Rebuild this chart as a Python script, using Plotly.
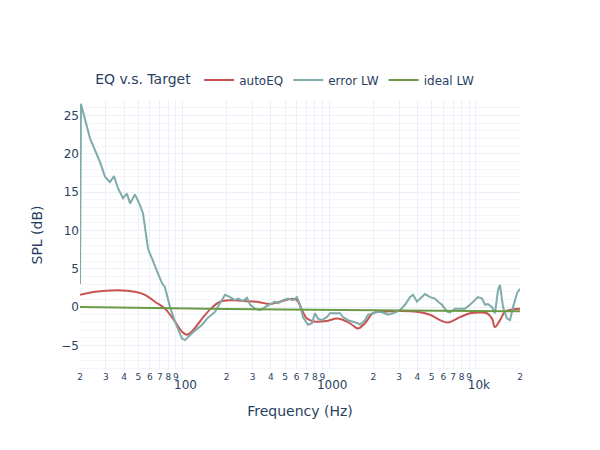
import plotly.graph_objects as go

# ---- data (Hz, dB) ----
err_f = [20, 20.3, 23.4, 25.3, 27.4, 29.6, 32.0, 34.1, 36.3, 39.3, 41.8, 43.9, 47.4, 51.3, 53.8,
         58.2, 62.9, 68.0, 72.5, 75.9, 82.2, 88.9, 99.2, 104, 116, 136, 147, 167, 180, 195,
         211, 228, 239, 258, 275, 289, 312, 338, 365, 395, 427, 448, 484, 524, 567, 603,
         632, 663, 717, 763, 800, 839, 893, 966, 1013, 1095, 1185, 1242, 1344, 1453, 1572,
         1622, 1755, 1839, 1989, 2152, 2328, 2518, 2724, 3041, 3289, 3557, 3729, 3970, 4162,
         4502, 4870, 5268, 5521, 5879, 6359, 6666, 7211, 7800, 8434, 9124, 9869, 10342,
         11012, 11546, 12102, 12890, 13508, 14159, 14610, 15314, 16306, 17097, 17926, 19080, 20000]
err_db = [3.0, 26.5, 22.0, 20.4, 18.9, 17.0, 16.3, 17.1, 15.5, 14.2, 14.8, 13.5, 14.7, 13.3, 12.2,
          7.6, 5.9, 4.4, 3.1, 2.6, 0.0, -1.9, -4.1, -4.3, -3.4, -2.3, -1.5, -0.6, 0.5, 1.6,
          1.3, 0.9, 1.1, 0.8, 1.2, 0.3, -0.2, -0.4, 0.0, 0.3, 0.7, 0.5, 0.9, 1.1, 0.9, 1.3,
          0.3, -1.3, -2.3, -2.1, -0.8, -1.5, -1.7, -1.3, -0.8, -0.8, -0.8, -1.3, -1.7, -1.9, -2.1,
          -2.3, -1.7, -1.0, -0.8, -0.6, -0.7, -1.0, -0.8, -0.4, 0.3, 1.3, 1.6, 0.7, 1.1,
          1.7, 1.3, 1.1, 0.7, 0.3, -0.6, -0.7, -0.2, -0.2, -0.2, 0.3, 0.9, 1.3,
          1.1, 0.3, 0.4, 0.0, -0.8, 2.2, 2.9, 0.0, -1.5, -1.7, 0.0, 1.8, 2.4]

eq_f = [20, 25.3, 36.3, 47.4, 55.5, 64.9, 75.9, 88.9, 99.2, 107, 118, 136, 156, 180, 211, 258,
        322, 395, 462, 558, 603, 653, 706, 800, 966, 1131, 1323, 1431, 1572, 1755, 1989, 2328,
        3041, 3970, 4870, 5695, 6458, 7800, 9124, 10672, 11914, 12890, 13508, 14610, 15806,
        17926, 20000]
eq_db = [1.6, 2.0, 2.2, 2.0, 1.6, 0.7, -0.2, -1.9, -3.2, -3.6, -3.0, -1.5, -0.2, 0.7, 0.9, 0.8,
         0.7, 0.4, 0.7, 1.1, 0.9, -0.4, -1.5, -1.9, -1.8, -1.5, -1.9, -2.3, -2.8, -2.1, -0.8, -0.6,
         -0.5, -0.6, -1.0, -1.7, -2.0, -1.3, -0.8, -0.7, -0.8, -1.5, -2.6, -1.7, -0.6,
         -0.3, -0.2]

ideal_f = [20, 200, 2000, 20000]
ideal_db = [0.0, -0.25, -0.4, -0.55]

fig = go.Figure()
fig.add_trace(go.Scatter(x=eq_f, y=eq_db, mode="lines", name="autoEQ",
                         line=dict(color="#c85250", width=2, shape="spline")))
fig.add_trace(go.Scatter(x=err_f, y=err_db, mode="lines", name="error LW",
                         line=dict(color="#7fabaa", width=2)))
fig.add_trace(go.Scatter(x=ideal_f, y=ideal_db, mode="lines", name="ideal LW",
                         line=dict(color="#6a9a46", width=2)))

fig.update_layout(
    template="plotly_white",
    width=600, height=450,
    font=dict(family="DejaVu Sans", size=12, color="#2a3f5f"),
    margin=dict(l=80, r=80, t=100, b=80),
    legend=dict(orientation="h", x=0.03, y=1.02, yanchor="bottom", xanchor="left",
                title=dict(text="EQ v.s. Target")),
    xaxis=dict(type="log", range=[1.30103, 4.30103], dtick="D1",
               title=dict(text="Frequency (Hz)", font=dict(size=14))),
    yaxis=dict(range=[-8.2, 27], dtick=5, title=dict(text="SPL (dB)", font=dict(size=14)),
               zeroline=False,
               minor=dict(dtick=1, showgrid=True, gridcolor="#f3f5fa")),
)

fig.write_html("out.html")
